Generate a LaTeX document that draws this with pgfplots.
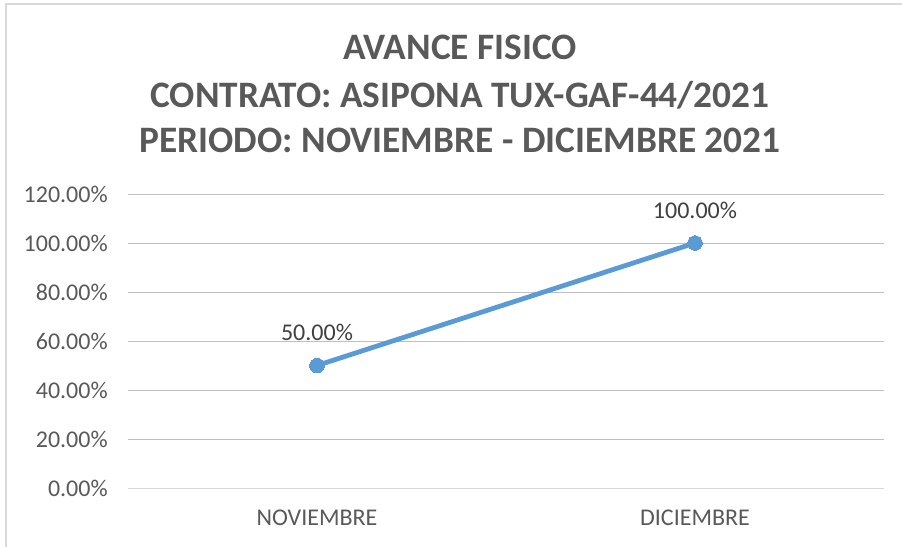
\documentclass[border=0pt]{standalone}
\usepackage{pgfplots}
\pgfplotsset{compat=1.18}
\usepackage{fontspec}
\setmainfont{Carlito}
\definecolor{txt}{HTML}{595959}
\definecolor{lbl}{HTML}{404040}
\definecolor{grid}{HTML}{D9D9D9}
\definecolor{ser}{HTML}{5B9BD5}
\begin{document}
\begin{tikzpicture}[x=0.75pt,y=-0.75pt]
\useasboundingbox (0,0) rectangle (902,546);
\draw[grid, line width=1.5pt] (6,560) -- (6,4) -- (910,4);
\node[anchor=base, text=txt, font=\fontsize{28}{32}\selectfont\bfseries] at (460,59) {AVANCE FISICO};
\node[anchor=base, text=txt, font=\fontsize{28}{32}\selectfont\bfseries] at (460,107) {CONTRATO: ASIPONA TUX-GAF-44/2021};
\node[anchor=base, text=txt, font=\fontsize{28}{32}\selectfont\bfseries] at (460,152) {PERIODO: NOVIEMBRE - DICIEMBRE 2021};
\begin{axis}[
  at={(96pt,-366pt)}, anchor=south west,
  scale only axis, width=567pt, height=220.5pt,
  xmin=-0.5, xmax=1.5, ymin=0, ymax=120,
  axis line style={draw=none},
  xtick={0,1}, xticklabels={NOVIEMBRE,DICIEMBRE},
  ytick={0,20,40,60,80,100,120},
  xmajorgrids=false, ymajorgrids=true, grid style={grid, line width=0.75pt},
  tick style={draw=none},
  major tick length=0pt,
  /pgf/number format/assume math mode=true,
  yticklabel={\pgfmathprintnumber[fixed,fixed zerofill,precision=2]{\tick}\%},
  yticklabel style={anchor=east, inner sep=0pt, xshift=-15pt, text=txt, font=\fontsize{18}{21}\selectfont},
  xticklabel style={anchor=base, inner sep=0pt, yshift=-27.75pt, text=txt, font=\fontsize{18}{21}\selectfont},
  clip=false,
]
\draw[grid, line width=0.75pt] (axis cs:-0.5,0) -- (axis cs:1.5,0);
\addplot[ser, line width=3.6pt, mark=*, mark size=5.5pt, mark options={fill=ser, draw=ser, line width=0pt},
  point meta=y,
  nodes near coords={\pgfmathprintnumber[fixed,fixed zerofill,precision=2]{\pgfplotspointmeta}\%},
  every node near coord/.style={anchor=base, inner sep=0pt, yshift=18.5pt, text=lbl, font=\fontsize{18}{21}\selectfont}
] coordinates {(0,50) (1,100)};
\end{axis}
\end{tikzpicture}
\end{document}
